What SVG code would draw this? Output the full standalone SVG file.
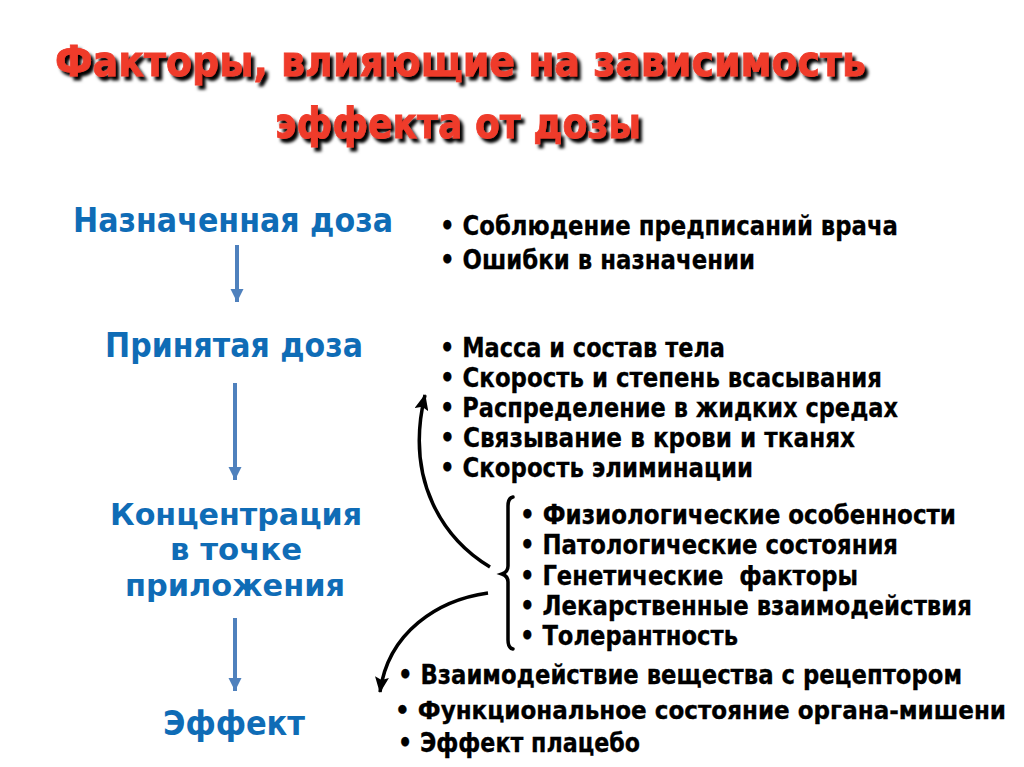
<svg xmlns="http://www.w3.org/2000/svg" width="1024" height="767" viewBox="0 0 1024 767">
<defs>
<filter id="shadow" x="-5%" y="-20%" width="115%" height="160%">
<feDropShadow dx="3.5" dy="4" stdDeviation="1.6" flood-color="#000" flood-opacity="1"/>
</filter>
<marker id="blueHead" markerUnits="userSpaceOnUse" markerWidth="14" markerHeight="14" viewBox="0 0 14 14" refX="13" refY="7" orient="auto">
<path d="M0,0.5 L13,7 L0,13.5 z" fill="#4f81bd"/>
</marker>
<marker id="blackHead" markerUnits="userSpaceOnUse" markerWidth="16" markerHeight="14" viewBox="0 0 16 14" refX="15" refY="7" orient="auto">
<path d="M0,0 L16,7 L0,14 L3,7 z" fill="#000"/>
</marker>
</defs>
<style>
.title{font-family:"DejaVu Sans","Liberation Sans",sans-serif;font-weight:bold;font-size:42px;fill:#ef3b2c;stroke:#ef3b2c;stroke-width:0.8;filter:url(#shadow);}
.stage{font-family:"DejaVu Sans","Liberation Sans",sans-serif;font-weight:bold;font-size:34px;fill:#0f6cb6;}
.stage-s{font-size:31px;}
.item{font-family:"DejaVu Sans","Liberation Sans",sans-serif;font-weight:bold;font-size:26px;fill:#000;stroke:#000;stroke-width:0.3;}
.itemc{font-family:"DejaVu Sans Condensed","DejaVu Sans","Liberation Sans",sans-serif;font-weight:bold;font-size:26px;fill:#000;stroke:#000;stroke-width:0.3;}
.narrow{font-size:24px;}
.flow{stroke:#4f81bd;stroke-width:4;fill:none;marker-end:url(#blueHead);}
.curve{stroke:#000;stroke-width:3.5;fill:none;marker-end:url(#blackHead);}
.brace{stroke:#000;stroke-width:3.5;fill:none;stroke-linecap:round;}
</style>
<rect width="1024" height="767" fill="#fff"/>

<g id="title">
<text class="title" x="55" y="76" textLength="811" lengthAdjust="spacingAndGlyphs">Факторы, влияющие на зависимость</text>
<text class="title" x="275" y="138" textLength="366" lengthAdjust="spacingAndGlyphs">эффекта от дозы</text>
</g>

<g id="node-prescribed">
<text class="stage" x="73" y="232" textLength="320" lengthAdjust="spacingAndGlyphs">Назначенная доза</text>
</g>
<g id="node-taken">
<text class="stage" x="105" y="357" textLength="258" lengthAdjust="spacingAndGlyphs">Принятая доза</text>
</g>
<g id="node-concentration">
<text class="stage stage-s" x="110" y="525" textLength="252" lengthAdjust="spacingAndGlyphs">Концентрация</text>
<text class="stage stage-s" x="170" y="560" textLength="132" lengthAdjust="spacingAndGlyphs">в точке</text>
<text class="stage stage-s" x="125" y="596" textLength="220" lengthAdjust="spacingAndGlyphs">приложения</text>
</g>
<g id="node-effect">
<text class="stage" x="163" y="735" textLength="142" lengthAdjust="spacingAndGlyphs">Эффект</text>
</g>

<g id="factors-prescription">
<text class="item" x="440" y="235" textLength="458" lengthAdjust="spacingAndGlyphs">• Соблюдение предписаний врача</text>
<text class="item" x="440" y="269" textLength="315" lengthAdjust="spacingAndGlyphs">• Ошибки в назначении</text>
</g>
<g id="factors-pharmacokinetic">
<text class="item" x="440" y="357" textLength="285" lengthAdjust="spacingAndGlyphs">• Масса и состав тела</text>
<text class="item" x="440" y="387" textLength="442" lengthAdjust="spacingAndGlyphs">• Скорость и степень всасывания</text>
<text class="item" x="440" y="417" textLength="458" lengthAdjust="spacingAndGlyphs">• Распределение в жидких средах</text>
<text class="item" x="440" y="447" textLength="415" lengthAdjust="spacingAndGlyphs">• Связывание в крови и тканях</text>
<text class="item" x="440" y="477" textLength="313" lengthAdjust="spacingAndGlyphs">• Скорость элиминации</text>
</g>
<g id="factors-individual">
<path class="brace" d="M513,497 Q508,498 508,506 L508,566 Q508,572 502,574 Q508,576 508,582 L508,640 Q508,648 513,649"/>
<text class="itemc" x="520" y="524" textLength="436" lengthAdjust="spacingAndGlyphs">• Физиологические особенности</text>
<text class="itemc" x="520" y="554" textLength="378" lengthAdjust="spacingAndGlyphs">• Патологические состояния</text>
<text class="itemc" x="520" y="585" textLength="338" lengthAdjust="spacingAndGlyphs" xml:space="preserve">• Генетические  факторы</text>
<text class="itemc" x="520" y="615" textLength="452" lengthAdjust="spacingAndGlyphs">• Лекарственные взаимодействия</text>
<text class="itemc" x="520" y="645" textLength="218" lengthAdjust="spacingAndGlyphs">• Толерантность</text>
</g>
<g id="factors-pharmacodynamic">
<text class="itemc" x="398" y="684" textLength="564" lengthAdjust="spacingAndGlyphs">• Взаимодействие вещества с рецептором</text>
<text class="itemc narrow" x="395" y="719" textLength="611" lengthAdjust="spacingAndGlyphs">• Функциональное состояние органа-мишени</text>
<text class="itemc" x="398" y="752" textLength="242" lengthAdjust="spacingAndGlyphs">• Эффект плацебо</text>
</g>

<g id="connectors">
<line class="flow" x1="237" y1="245" x2="237" y2="302"/>
<line class="flow" x1="235" y1="383" x2="235" y2="480"/>
<line class="flow" x1="235" y1="618" x2="235" y2="691"/>
<path class="curve" d="M490,567 C445,540 404,482 425,395"/>
<path class="curve" d="M488,593 C438,600 388,632 380,692"/>
</g>
</svg>
